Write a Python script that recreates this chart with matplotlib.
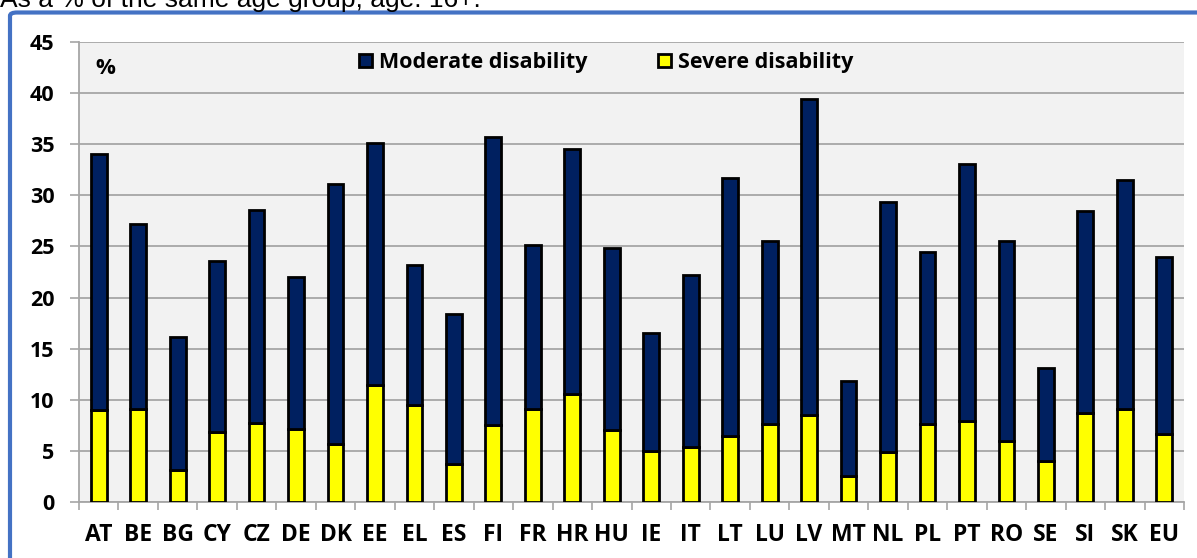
import numpy as np
import matplotlib.pyplot as plt
from matplotlib.patches import FancyBboxPatch

# datos (% de la poblacion, 16+)
countries = ['AT', 'BE', 'BG', 'CY', 'CZ', 'DE', 'DK', 'EE', 'EL', 'ES',
             'FI', 'FR', 'HR', 'HU', 'IE', 'IT', 'LT', 'LU', 'LV', 'MT',
             'NL', 'PL', 'PT', 'RO', 'SE', 'SI', 'SK', 'EU']
severe = [9.0, 9.1, 3.1, 6.8, 7.7, 7.1, 5.7, 11.4, 9.5, 3.7,
          7.5, 9.1, 10.6, 7.0, 5.0, 5.4, 6.5, 7.6, 8.5, 2.5,
          4.9, 7.6, 7.9, 6.0, 4.0, 8.7, 9.1, 6.7]
moderate = [25.0, 18.1, 13.0, 16.8, 20.9, 14.9, 25.4, 23.7, 13.7, 14.7,
            28.2, 16.0, 23.9, 17.8, 11.5, 16.8, 25.2, 17.9, 30.9, 9.3,
            24.4, 16.9, 25.2, 19.5, 9.1, 19.8, 22.4, 17.3]
yticks = [0, 5, 10, 15, 20, 25, 30, 35, 40, 45]

navy = '#002060'
yellow = '#FFFF00'
grey = '#A6A6A6'

plt.rcParams['font.family'] = ['Open Sans', 'DejaVu Sans']
plt.rcParams['font.weight'] = 'bold'

fig = plt.figure(figsize=(11.97, 5.58), dpi=100)
ax = fig.add_axes([79/1197, 56/558, 1105/1197, 460/558])
ax.set_facecolor('#F2F2F2')

x = np.arange(len(countries))
ax.bar(x, severe, width=0.4, color=yellow, edgecolor='black', linewidth=2,
       label='Severe disability', zorder=3)
ax.bar(x, moderate, width=0.4, bottom=severe, color=navy, edgecolor='black',
       linewidth=2, label='Moderate disability', zorder=3)

ax.set_xlim(-0.5, len(countries) - 0.5)
ax.set_ylim(0, 45)
ax.set_yticks(yticks)
ax.set_xticks(x)
ax.set_xticklabels(countries)
ax.set_xticks(np.arange(-0.5, len(countries), 1), minor=True)
ax.tick_params(axis='x', which='major', length=0, pad=15, labelsize=16.5)
ax.tick_params(axis='x', which='minor', length=6, width=1.2, color=grey)
ax.tick_params(axis='y', length=6.5, width=1.2, color=grey, pad=11, labelsize=15.5)

ax.grid(axis='y', color=grey, linewidth=1.3, zorder=0)
ax.set_axisbelow(True)
for s in ['top', 'right']:
    ax.spines[s].set_visible(False)
for s in ['left', 'bottom']:
    ax.spines[s].set_color(grey)
    ax.spines[s].set_linewidth(1.3)

ax.text(0.0145, 0.943, '%', transform=ax.transAxes, fontsize=16,
        fontweight='bold', va='center', ha='left')

h, l = ax.get_legend_handles_labels()
ax.legend(h[::-1], l[::-1], ncol=2, loc='center', bbox_to_anchor=(0.477, 0.955),
          frameon=False, fontsize=15.5, handlelength=0.6, handleheight=0.6,
          handletextpad=0.3, columnspacing=3.3)

# marco azul y titulo cortado arriba
frame = FancyBboxPatch((10/1197, -0.2), 1.3, (545.5/558) + 0.2,
                       boxstyle='round,pad=0,rounding_size=0.006',
                       transform=fig.transFigure, fill=False,
                       edgecolor='#4472C4', linewidth=3)
fig.patches.append(frame)
fig.text(0.0, 1 - 7/558, 'As a % of the same age group, age: 16+.',
         family='Liberation Sans', fontweight='normal', fontsize=19,
         va='baseline', ha='left')

fig.savefig('out.png', dpi=100)
